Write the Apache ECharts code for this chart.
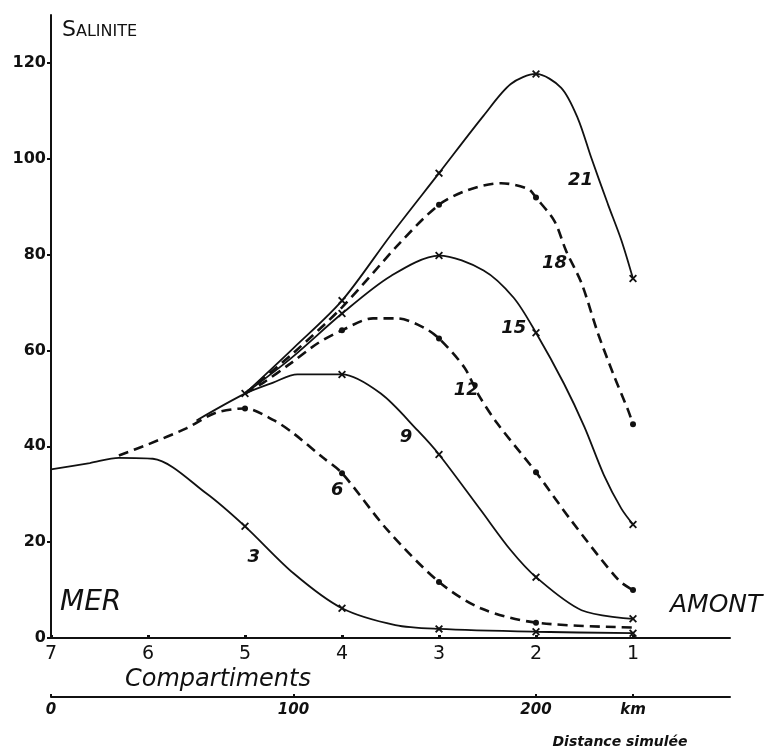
<!DOCTYPE html>
<html>
<head>
<meta charset="utf-8">
<script src="https://cdn.jsdelivr.net/npm/echarts@6/dist/echarts.min.js"></script>
<style>
  html, body { margin: 0; padding: 0; background: #fff; }
  #main { width: 771px; height: 754px; }
</style>
</head>
<body>
<div id="main"></div>
<script>
// salinite le long des compartiments (7 = mer, 1 = amont), par pas de temps
var curve3 = [[7, 35.2], [6.6, 36.5], [6.3, 37.6], [5.95, 37.4], [5.4, 30.2], [5, 23.3], [4.5, 13.5], [4, 6.2], [3.45, 2.7], [3, 1.9], [2, 1.3], [1, 1.0]]
var curve6 = [[6.3, 38.1], [6.0, 40.4], [5.6, 43.8], [5.3, 47], [5, 47.9], [4.7, 45.4], [4.5, 42.7], [4.2, 37.7], [4, 34.4], [3.53, 22.5], [3, 11.7], [2.57, 6.2], [2, 3.2], [1, 2.2]]
var curve9 = [[5.5, 45.4], [5, 51], [4.71, 53.3], [4.46, 55], [4, 55], [3.6, 51], [3.22, 43.3], [3, 38.3], [2.57, 26.7], [2.26, 18.3], [2, 12.7], [1.53, 5.8], [1, 4.0]]
var curve12 = [[5, 51], [4.81, 53.3], [4.53, 57.3], [4.25, 61.5], [4, 64.2], [3.68, 66.7], [3.43, 66.7], [3.16, 64.8], [3, 62.5], [2.74, 56.5], [2.6, 51], [2.4, 44.8], [2, 34.6], [1.64, 24.6], [1.15, 12.1], [1, 10]]
var curve15 = [[5, 51], [4.53, 58.3], [4, 67.7], [3.5, 75.5], [3, 79.8], [2.54, 76.7], [2.23, 71], [2, 63.7], [1.71, 53], [1.5, 44], [1.3, 34], [1.12, 27], [1, 23.7]]
var curve18 = [[5, 51], [4.5, 59.5], [4, 69], [3.4, 82.5], [3, 90.4], [2.7, 93.5], [2.36, 94.9], [2.08, 93.7], [2, 91.9], [1.81, 87], [1.69, 80.8], [1.53, 74], [1.36, 63.5], [1.19, 54.4], [1.05, 47.5], [1, 44.6]]
var curve21 = [[5, 51], [4.5, 60.5], [4, 70.4], [3.5, 84], [3, 97], [2.54, 109], [2.26, 115.6], [2, 117.7], [1.74, 114.8], [1.57, 108.5], [1.43, 100.2], [1.26, 90.6], [1.12, 83], [1, 75]]

// compartiments marques (croix pour les traits pleins, points pour les tirets)
var marks3 = [5, 4, 3, 2, 1]
var marks6 = [5, 4, 3, 2]
var marks9 = [5, 4, 3, 2, 1]
var marks12 = [4, 3, 2, 1]
var marks15 = [4, 3, 2, 1]
var marks18 = [3, 2, 1]
var marks21 = [4, 3, 2, 1]

// position des etiquettes de courbe [compartiment, salinite]
var tag3 = [4.91, 16.9]
var tag6 = [4.05, 30.8]
var tag9 = [3.34, 41.9]
var tag12 = [2.72, 51.7]
var tag15 = [2.23, 64.6]
var tag18 = [1.81, 78.1]
var tag21 = [1.54, 95.4]

var yTicks = [0, 20, 40, 60, 80, 100, 120]
var compTicks = [1, 2, 3, 4, 5, 6, 7]
var kmTicks = [0, 100, 200, 240]

var curves = [
  { name: '3', data: curve3, marks: marks3, tag: tag3, dashed: false },
  { name: '6', data: curve6, marks: marks6, tag: tag6, dashed: true },
  { name: '9', data: curve9, marks: marks9, tag: tag9, dashed: false },
  { name: '12', data: curve12, marks: marks12, tag: tag12, dashed: true },
  { name: '15', data: curve15, marks: marks15, tag: tag15, dashed: false },
  { name: '18', data: curve18, marks: marks18, tag: tag18, dashed: true },
  { name: '21', data: curve21, marks: marks21, tag: tag21, dashed: false }
]

var crossPath = 'path://M0,1.6L1.6,0L5,3.4L8.4,0L10,1.6L6.6,5L10,8.4L8.4,10L5,6.6L1.6,10L0,8.4L3.4,5Z'
var ink = '#111'

var myChart = echarts.init(document.getElementById('main'))

var series = []
curves.forEach(function (c) {
  series.push({
    type: 'line',
    name: c.name,
    data: c.data,
    smooth: 0.3,
    showSymbol: false,
    silent: true,
    z: 2,
    lineStyle: c.dashed
      ? { color: ink, width: 2.6, type: [10, 6] }
      : { color: ink, width: 1.8 }
  })
  var pts = c.data.filter(function (d) { return c.marks.indexOf(d[0]) >= 0 })
  series.push({
    type: 'scatter',
    data: pts,
    symbol: c.dashed ? 'circle' : crossPath,
    symbolSize: c.dashed ? 6 : 8,
    silent: true,
    z: 3,
    itemStyle: { color: ink, opacity: 1 }
  })
  series.push({
    type: 'scatter',
    data: [{ value: c.tag, name: c.name }],
    symbolSize: 0,
    silent: true,
    z: 4,
    itemStyle: { opacity: 1 },
    label: {
      show: true,
      position: 'inside',
      formatter: '{b}',
      color: ink,
      fontFamily: 'DejaVu Sans',
      fontStyle: 'italic',
      fontWeight: 'bold',
      fontSize: 18
    }
  })
})

var option = {
  backgroundColor: '#fff',
  animation: false,
  grid: { left: 51, right: 41, top: 15, bottom: 116 },
  xAxis: [
    {
      type: 'value',
      min: 0,
      max: 7,
      interval: 1,
      inverse: true,
      position: 'bottom',
      splitLine: { show: false },
      axisLine: { onZero: false, lineStyle: { color: ink, width: 2 } },
      axisTick: { customValues: compTicks, length: 3, inside: true, lineStyle: { color: ink, width: 3 } },
      axisLabel: {
        customValues: compTicks,
        color: ink,
        fontFamily: 'DejaVu Sans',
        fontSize: 19,
        margin: 7
      }
    },
    {
      type: 'value',
      min: 0,
      max: 280,
      interval: 20,
      position: 'bottom',
      offset: 59,
      splitLine: { show: false },
      axisLine: { onZero: false, lineStyle: { color: ink, width: 2 } },
      axisTick: { customValues: kmTicks, length: 3, inside: true, lineStyle: { color: ink, width: 2 } },
      axisLabel: {
        customValues: kmTicks,
        color: ink,
        fontFamily: 'DejaVu Sans',
        fontStyle: 'italic',
        fontWeight: 'bold',
        fontSize: 15,
        margin: 6,
        formatter: function (v) { return v === 240 ? 'km' : String(v) }
      }
    }
  ],
  yAxis: {
    type: 'value',
    min: 0,
    max: 130,
    interval: 20,
    position: 'left',
    splitLine: { show: false },
    axisLine: { show: true, onZero: false, lineStyle: { color: ink, width: 2 } },
    axisTick: { show: true, customValues: yTicks, length: 4, lineStyle: { color: ink, width: 2 } },
    axisLabel: {
      customValues: yTicks,
      color: ink,
      fontFamily: 'DejaVu Sans',
      fontWeight: 'bold',
      fontSize: 16,
      margin: 5
    }
  },
  graphic: [
    {
      type: 'text', x: 62, y: 30,
      style: {
        text: '{a|S}{b|ALINITE}',
        verticalAlign: 'middle',
        rich: {
          a: { fontSize: 22, fontFamily: 'DejaVu Sans', fill: ink },
          b: { fontSize: 16, fontFamily: 'DejaVu Sans', fill: ink, padding: [4, 0, 0, 0] }
        }
      }
    },
    {
      type: 'text', x: 60, y: 603,
      style: { text: 'MER', fill: ink, font: 'italic 28px "DejaVu Sans"', verticalAlign: 'middle' }
    },
    {
      type: 'text', x: 670, y: 605,
      style: { text: 'AMONT', fill: ink, font: 'italic 25px "DejaVu Sans"', verticalAlign: 'middle' }
    },
    {
      type: 'text', x: 218, y: 680,
      style: { text: 'Compartiments', fill: ink, font: 'italic 24px "DejaVu Sans"', align: 'center', verticalAlign: 'middle' }
    },
    {
      type: 'text', x: 620, y: 742,
      style: { text: 'Distance simulée', fill: ink, font: 'italic bold 14px "DejaVu Sans"', align: 'center', verticalAlign: 'middle' }
    }
  ],
  series: series
}

myChart.setOption(option)
</script>
</body>
</html>
